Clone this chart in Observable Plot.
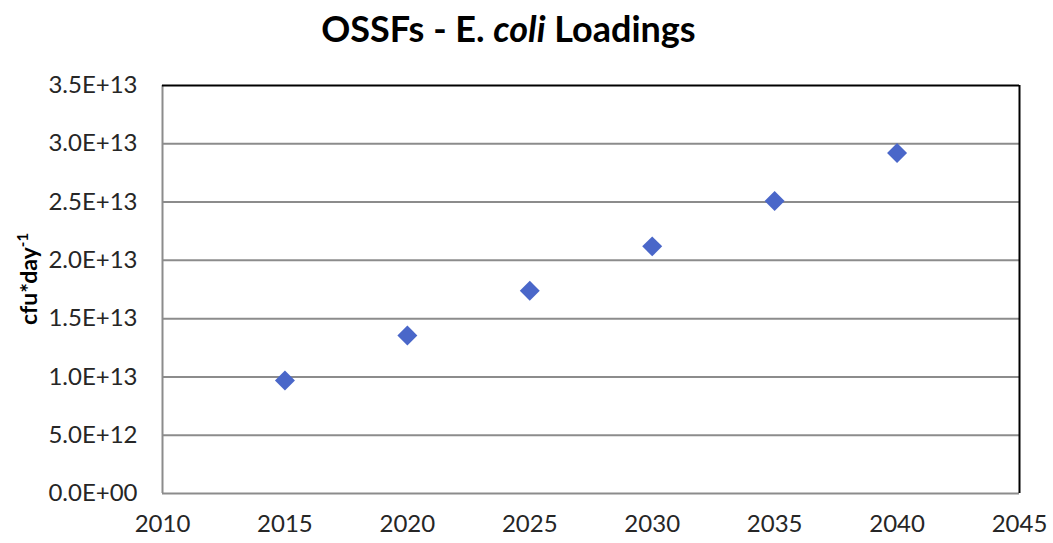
<!DOCTYPE html>
<html>
<head>
<meta charset="utf-8">
<script src="https://cdn.jsdelivr.net/npm/d3@7"></script>
<script src="https://cdn.jsdelivr.net/npm/@observablehq/plot@0.6"></script>
<style>
  html, body { margin: 0; padding: 0; background: #fff; }
  #title { height: 60px; box-sizing: border-box; padding-top: 9px; padding-right: 36px; text-align: center;
           font-family: Lato, "Open Sans", sans-serif; font-weight: bold; font-size: 36px; color: #000; line-height: 38px; }
  #title i { font-style: italic; }
</style>
</head>
<body>
<div id="title">OSSFs - E. <i>coli</i> Loadings</div>
<div id="chart"></div>
<script>
const years = [2015, 2020, 2025, 2030, 2035, 2040];
const loadings = [9.7e12, 1.355e13, 1.74e13, 2.12e13, 2.51e13, 2.92e13];
const yTicks = [0, 5e12, 1e13, 1.5e13, 2e13, 2.5e13, 3e13, 3.5e13];
const xTicks = [2010, 2015, 2020, 2025, 2030, 2035, 2040, 2045];
const yLabel = "cfu*day";
const yLabelSup = "-1";

const data = years.map((y, i) => ({year: y, value: loadings[i]}));
const fmt = d => {
  const [m, e] = d.toExponential(1).toUpperCase().split("E");
  const sign = e[0];
  const digits = e.slice(1).padStart(2, "0");
  return `${m}E${sign}${digits}`;
};

const plot = Plot.plot({
  width: 1053,
  height: 483,
  marginTop: 25,
  marginBottom: 50,
  marginLeft: 162,
  marginRight: 34,
  style: {fontFamily: "Lato, 'Open Sans', sans-serif", fontSize: "24px", color: "#262626", background: "#fff"},
  x: {domain: [2010, 2045], ticks: xTicks, tickFormat: d => String(d), tickSize: 0, tickPadding: 21, label: null},
  y: {domain: [0, 3.5e13], ticks: yTicks, tickFormat: fmt, tickSize: 0, tickPadding: 25, label: null},
  marks: [
    Plot.ruleY(yTicks.slice(0, -1), {stroke: "#8c8c8c", strokeWidth: 2}),
    Plot.ruleX([2010], {stroke: "#8c8c8c", strokeWidth: 2}),
    Plot.ruleY([3.5e13], {stroke: "#000", strokeWidth: 2}),
    Plot.ruleX([2045], {stroke: "#000", strokeWidth: 2}),
    Plot.dot(data, {x: "year", y: "value", symbol: "diamond2", r: 9, fill: "#4a67c9", stroke: "none"})
  ]
});
document.getElementById("chart").appendChild(plot);

const svg = d3.select(plot);
const t = svg.append("text")
  .attr("transform", "translate(37, 219) rotate(-90)")
  .attr("text-anchor", "middle")
  .attr("font-family", "Lato, 'Open Sans', sans-serif")
  .attr("font-weight", "bold")
  .attr("font-size", 23)
  .attr("fill", "#000");
t.append("tspan").text(yLabel);
t.append("tspan").attr("baseline-shift", "super").attr("font-size", 15).text(yLabelSup);
</script>
</body>
</html>
